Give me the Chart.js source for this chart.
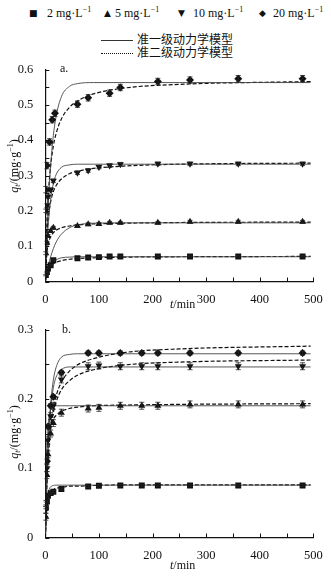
<!DOCTYPE html>
<html>
<head>
<meta charset="utf-8">
<script src="https://cdn.jsdelivr.net/npm/chart.js@4.4.1/dist/chart.umd.min.js"></script>
<style>
  body { margin: 0; background: #fff; width: 331px; height: 579px; position: relative; overflow: hidden;
         font-family: "Liberation Serif", "Noto Sans CJK SC", serif; color: #111; }
  .t { position: absolute; white-space: nowrap; font-size: 12px; line-height: 14px; }
  .mk { position: absolute; font-family: "DejaVu Sans", sans-serif; font-size: 9px; line-height: 14px; }
  sup { font-size: 8px; vertical-align: 5px; line-height: 0; }
  sub { font-size: 8px; vertical-align: -2px; line-height: 0; }
  .ln { position: absolute; width: 32px; height: 0; }
  .rot { position: absolute; transform: translate(-50%, -50%) rotate(-90deg); white-space: nowrap; font-size: 12px; }
  canvas { position: absolute; left: 0; }
</style>
</head>
<body>
<!-- legend -->
<span class="mk" style="left:29px;top:6px">■</span><span class="t" style="left:47px;top:6px">2 mg·L<sup>−1</sup></span>
<span class="mk" style="left:104px;top:6px">▲</span><span class="t" style="left:115px;top:6px">5 mg·L<sup>−1</sup></span>
<span class="mk" style="left:178px;top:6px">▼</span><span class="t" style="left:193px;top:6px">10 mg·L<sup>−1</sup></span>
<span class="mk" style="left:259px;top:6px">◆</span><span class="t" style="left:273px;top:6px">20 mg·L<sup>−1</sup></span>
<div class="ln" style="left:101px;top:40px;border-top:1px solid #333"></div>
<span class="t" style="left:137px;top:33px">准一级动力学模型</span>
<div class="ln" style="left:101px;top:53px;border-top:1px dotted #111"></div>
<span class="t" style="left:137px;top:46px">准二级动力学模型</span>

<canvas id="chartA" width="331" height="254" style="top:58px"></canvas>
<canvas id="chartB" width="331" height="250" style="top:318px"></canvas>

<span class="t" style="left:60px;top:61px">a.</span>
<span class="t" style="left:62px;top:322px">b.</span>
<div class="rot" style="left:14px;top:166px"><i>q<sub>t</sub></i>/(mg·g<sup>−1</sup>)</div>
<div class="rot" style="left:14px;top:432px"><i>q<sub>t</sub></i>/(mg·g<sup>−1</sup>)</div>
<span class="t" style="left:170px;top:297px"><i>t</i>/min</span>
<span class="t" style="left:170px;top:558px"><i>t</i>/min</span>

<script>
// time grid for the fitted curves (min)
const curveT = [0, 3, 6, 10, 15, 20, 30, 45, 60, 90, 150, 250, 495]

// panel a – fitted curves
const a2First = [0, 0.018, 0.032, 0.044, 0.054, 0.061, 0.067, 0.069, 0.070, 0.070, 0.070, 0.070, 0.070]
const a2Second = [0, 0.022, 0.034, 0.043, 0.050, 0.054, 0.059, 0.063, 0.065, 0.067, 0.069, 0.070, 0.071]
const a5First = [0, 0.025, 0.047, 0.070, 0.093, 0.111, 0.134, 0.152, 0.160, 0.165, 0.166, 0.166, 0.166]
const a5Second = [0, 0.080, 0.109, 0.127, 0.138, 0.145, 0.152, 0.157, 0.160, 0.163, 0.165, 0.167, 0.168]
const a10First = [0, 0.100, 0.170, 0.232, 0.277, 0.302, 0.323, 0.330, 0.332, 0.332, 0.332, 0.332, 0.332]
const a10Second = [0, 0.128, 0.186, 0.226, 0.254, 0.271, 0.290, 0.305, 0.312, 0.320, 0.327, 0.332, 0.335]
const a20First = [0, 0.131, 0.231, 0.329, 0.413, 0.466, 0.523, 0.552, 0.560, 0.563, 0.563, 0.563, 0.563]
const a20Second = [0, 0.164, 0.255, 0.328, 0.383, 0.418, 0.460, 0.493, 0.511, 0.531, 0.548, 0.558, 0.566]

// panel a – measured points
const tA = [1, 3, 5, 10, 15, 60, 80, 100, 120, 140, 210, 270, 360, 480]
const a2Pts = [0.018, 0.027, 0.037, 0.046, 0.060, 0.066, 0.068, 0.069, 0.071, 0.071, 0.071, 0.071, 0.071, 0.071]
const a5Pts = [0.080, 0.110, 0.129, 0.143, 0.152, 0.157, 0.162, 0.163, 0.166, 0.166, 0.166, 0.169, 0.169, 0.169]
const a10Pts = [0.200, 0.215, 0.240, 0.260, 0.285, 0.308, 0.314, 0.324, 0.328, 0.332, 0.333, 0.333, 0.333, 0.333]
const tA20 = [1, 3, 8, 13, 18, 60, 80, 120, 140, 210, 270, 360, 480]
const a20Pts = [0.260, 0.328, 0.395, 0.458, 0.476, 0.502, 0.520, 0.533, 0.549, 0.566, 0.570, 0.574, 0.574]

// panel b – fitted curves
const b2First = [0, 0.049, 0.066, 0.073, 0.075, 0.0755, 0.0755, 0.0755, 0.0755, 0.0755, 0.0755, 0.0755, 0.0755]
const b2Second = [0, 0.049, 0.060, 0.066, 0.069, 0.071, 0.072, 0.074, 0.074, 0.075, 0.076, 0.076, 0.076]
const b5First = [0, 0.124, 0.167, 0.184, 0.189, 0.190, 0.190, 0.190, 0.190, 0.190, 0.190, 0.190, 0.190]
const b5Second = [0, 0.116, 0.146, 0.162, 0.171, 0.176, 0.182, 0.186, 0.188, 0.190, 0.191, 0.192, 0.193]
const b10First = [0, 0.084, 0.140, 0.185, 0.216, 0.231, 0.242, 0.246, 0.246, 0.246, 0.246, 0.246, 0.246]
const b10Second = [0, 0.081, 0.123, 0.156, 0.180, 0.195, 0.213, 0.226, 0.234, 0.242, 0.249, 0.253, 0.256]
const b20First = [0, 0.086, 0.144, 0.193, 0.227, 0.245, 0.260, 0.264, 0.265, 0.265, 0.265, 0.265, 0.265]
const b20Second = [0, 0.080, 0.124, 0.160, 0.187, 0.204, 0.224, 0.240, 0.249, 0.258, 0.267, 0.272, 0.276]

// panel b – measured points
const tB = [1, 3, 5, 10, 15, 30, 80, 100, 140, 180, 210, 270, 360, 480]
const b2Pts = [0.043, 0.052, 0.060, 0.064, 0.066, 0.070, 0.0736, 0.0746, 0.075, 0.075, 0.075, 0.075, 0.075, 0.075]
const b5Pts = [0.030, 0.090, 0.120, 0.150, 0.165, 0.180, 0.186, 0.187, 0.190, 0.190, 0.190, 0.192, 0.192, 0.192]
const b10Pts = [0.040, 0.100, 0.140, 0.175, 0.190, 0.228, 0.247, 0.248, 0.247, 0.247, 0.247, 0.247, 0.247, 0.247]
const b20Pts = [0.050, 0.110, 0.160, 0.190, 0.203, 0.238, 0.266, 0.266, 0.266, 0.266, 0.266, 0.266, 0.266, 0.266]

const xTicksMax = 500
const FONT = '"Liberation Serif", "Times New Roman", serif'

const zip = (xs, ys) => xs.map((x, i) => ({ x, y: ys[i] }))

// marker style per concentration
const markers = {
  c2: { pointStyle: 'rect', pointRadius: 4.2, pointRotation: 0 },
  c5: { pointStyle: 'triangle', pointRadius: 4, pointRotation: 0 },
  c10: { pointStyle: 'triangle', pointRadius: 4, pointRotation: 180 },
  c20: { pointStyle: 'rectRot', pointRadius: 4, pointRotation: 0 },
}

function pointSet(t, vals, mk, err) {
  return {
    data: zip(t, vals),
    ...markers[mk],
    backgroundColor: '#111',
    borderColor: '#111',
    borderWidth: 0,
    showLine: false,
    err: err,
    order: 0,
  }
}

function curveSet(vals, dashed) {
  return {
    data: zip(curveT, vals),
    showLine: true,
    pointRadius: 0,
    borderColor: dashed ? '#111' : '#444',
    borderWidth: dashed ? 1.2 : 0.9,
    borderDash: dashed ? [4, 2] : [],
    cubicInterpolationMode: 'monotone',
    order: 1,
  }
}

// short inward tick marks on both axes
const axisTicks = {
  id: 'axisTicks',
  afterDraw(chart) {
    const { ctx, chartArea: a, scales } = chart
    ctx.save()
    ctx.strokeStyle = '#111'
    ctx.lineWidth = 1
    scales.x.ticks.forEach((t) => {
      const px = Math.round(scales.x.getPixelForValue(t.value)) + 0.5
      ctx.beginPath()
      ctx.moveTo(px, a.bottom)
      ctx.lineTo(px, a.bottom - 4)
      ctx.stroke()
    })
    scales.y.ticks.forEach((t) => {
      const py = Math.round(scales.y.getPixelForValue(t.value)) + 0.5
      ctx.beginPath()
      ctx.moveTo(a.left, py)
      ctx.lineTo(a.left + 4, py)
      ctx.stroke()
    })
    ctx.restore()
  },
}

// vertical error bars with caps
const errorBars = {
  id: 'errorBars',
  afterDatasetsDraw(chart) {
    const { ctx, scales } = chart
    ctx.save()
    ctx.strokeStyle = '#222'
    ctx.lineWidth = 0.8
    chart.data.datasets.forEach((ds, i) => {
      if (!ds.err) return
      chart.getDatasetMeta(i).data.forEach((pt, j) => {
        const v = ds.data[j].y
        const top = scales.y.getPixelForValue(v + ds.err)
        const bot = scales.y.getPixelForValue(v - ds.err)
        ctx.beginPath()
        ctx.moveTo(pt.x, top)
        ctx.lineTo(pt.x, bot)
        ctx.moveTo(pt.x - 2.5, top)
        ctx.lineTo(pt.x + 2.5, top)
        ctx.moveTo(pt.x - 2.5, bot)
        ctx.lineTo(pt.x + 2.5, bot)
        ctx.stroke()
      })
    })
    ctx.restore()
  },
}

function buildChart(id, yMax, padTop, datasets) {
  return new Chart(document.getElementById(id), {
    type: 'scatter',
    data: { datasets },
    options: {
      animation: false,
      responsive: false,
      devicePixelRatio: 1,
      layout: { padding: { top: padTop, right: 17.7, left: 0, bottom: 0 } },
      plugins: { legend: { display: false }, tooltip: { enabled: false } },
      scales: {
        x: {
          type: 'linear',
          min: 0,
          max: xTicksMax,
          afterFit: (s) => { s.height = 30.5 },
          grid: { display: false },
          border: { display: true, color: '#111', width: 1.2 },
          ticks: {
            stepSize: 50,
            autoSkip: false,
            maxRotation: 0,
            padding: 3,
            color: '#111',
            font: { family: FONT, size: 12.5 },
            callback: (v) => (v % 100 === 0 ? String(v) : ''),
          },
        },
        y: {
          min: 0,
          max: yMax,
          afterFit: (s) => { s.width = 45.3 },
          grid: { display: false },
          border: { display: true, color: '#111', width: 1.2 },
          ticks: {
            stepSize: 0.05,
            autoSkip: false,
            padding: 4,
            color: '#111',
            font: { family: FONT, size: 12.5 },
            callback: (v) => {
              const k = Math.round(v * 20)
              return k % 2 === 0 ? String(k / 20) : ''
            },
          },
        },
      },
    },
    plugins: [errorBars, axisTicks],
  })
}

buildChart('chartA', 0.6, 7, [
  pointSet(tA, a2Pts, 'c2', 0.002),
  pointSet(tA, a5Pts, 'c5', 0.004),
  pointSet(tA, a10Pts, 'c10', 0.005),
  pointSet(tA20, a20Pts, 'c20', 0.009),
  curveSet(a2First, false), curveSet(a2Second, true),
  curveSet(a5First, false), curveSet(a5Second, true),
  curveSet(a10First, false), curveSet(a10Second, true),
  curveSet(a20First, false), curveSet(a20Second, true),
])

buildChart('chartB', 0.3, 8, [
  pointSet(tB, b2Pts, 'c2', 0.0015),
  pointSet(tB, b5Pts, 'c5', 0.005),
  pointSet(tB, b10Pts, 'c10', 0.005),
  pointSet(tB, b20Pts, 'c20', 0.003),
  curveSet(b2First, false), curveSet(b2Second, true),
  curveSet(b5First, false), curveSet(b5Second, true),
  curveSet(b10First, false), curveSet(b10Second, true),
  curveSet(b20First, false), curveSet(b20Second, true),
])
</script>
</body>
</html>
